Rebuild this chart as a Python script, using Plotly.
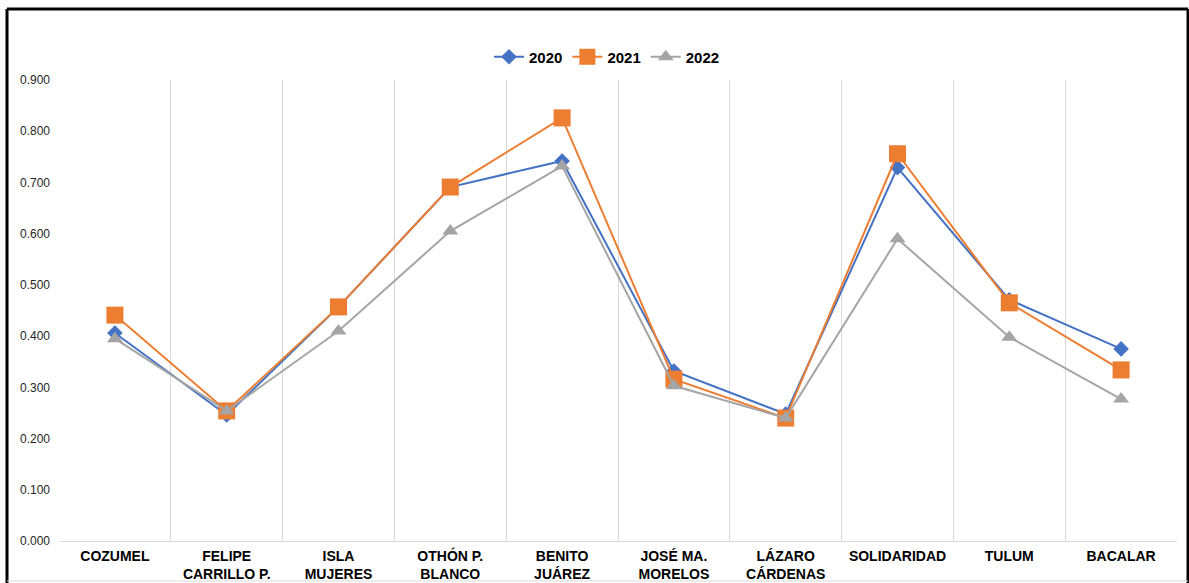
import plotly.graph_objects as go

categories = ["COZUMEL", "FELIPE<br>CARRILLO P.", "ISLA<br>MUJERES", "OTHÓN P.<br>BLANCO",
              "BENITO<br>JUÁREZ", "JOSÉ MA.<br>MORELOS", "LÁZARO<br>CÁRDENAS",
              "SOLIDARIDAD", "TULUM", "BACALAR"]
v2020 = [0.406, 0.246, 0.457, 0.691, 0.742, 0.332, 0.248, 0.729, 0.471, 0.375]
v2021 = [0.441, 0.254, 0.457, 0.691, 0.826, 0.316, 0.240, 0.756, 0.465, 0.334]
v2022 = [0.395, 0.254, 0.410, 0.605, 0.732, 0.303, 0.240, 0.590, 0.398, 0.277]

fig = go.Figure()
fig.add_trace(go.Scatter(x=categories, y=v2020, name="2020", mode="lines+markers",
                         line=dict(color="#4472C4", width=2),
                         marker=dict(symbol="diamond", size=12, color="#4472C4")))
fig.add_trace(go.Scatter(x=categories, y=v2021, name="2021", mode="lines+markers",
                         line=dict(color="#ED7D31", width=2),
                         marker=dict(symbol="square", size=17, color="#ED7D31")))
fig.add_trace(go.Scatter(x=categories, y=v2022, name="2022", mode="lines+markers",
                         line=dict(color="#A5A5A5", width=2),
                         marker=dict(symbol="triangle-up", size=14, color="#A5A5A5")))

L, R, T, B = 59, 12, 80, 42
W, H = 1189, 583
pw, ph = W - L - R, H - T - B

def px(x):
    return (x - L) / pw

def py(y):
    return (H - B - y) / ph

shapes = [
    dict(type="line", xref="paper", yref="paper", x0=px(7), x1=px(7), y0=py(9), y1=py(583),
         line=dict(color="black", width=3)),
    dict(type="line", xref="paper", yref="paper", x0=px(7), x1=px(1188), y0=py(9), y1=py(9),
         line=dict(color="black", width=3)),
    dict(type="line", xref="paper", yref="paper", x0=px(1188), x1=px(1188), y0=py(9), y1=py(583),
         line=dict(color="black", width=3)),
    dict(type="line", xref="paper", yref="paper", x0=px(7), x1=px(1188), y0=py(581), y1=py(581),
         line=dict(color="#d9d9d9", width=1)),
]

fig.update_layout(
    width=W, height=H,
    margin=dict(l=L, r=R, t=T, b=B, autoexpand=False),
    paper_bgcolor="white", plot_bgcolor="white",
    font=dict(family="Liberation Sans, Arial, sans-serif", color="#262626"),
    showlegend=True,
    legend=dict(orientation="h", x=px(607), xanchor="center", y=py(57), yanchor="middle",
                font=dict(size=15, color="black", family="Liberation Sans, Arial, sans-serif",
                          weight="bold"),
                itemwidth=30, tracegroupgap=0),
    shapes=shapes,
    xaxis=dict(type="category", tickson="boundaries", showgrid=True, gridcolor="#d9d9d9",
               gridwidth=1, ticks="", showline=True, linecolor="#d9d9d9", linewidth=1,
               ticklabelstandoff=2, tickangle=0, automargin=False,
               tickfont=dict(size=14, color="black", weight="bold"), range=[-0.5, 9.5]),
    yaxis=dict(range=[0, 0.9], dtick=0.1, tickformat=".3f", showgrid=False, zeroline=False,
               showline=False, ticks="", ticklabelstandoff=8, automargin=False,
               tickfont=dict(size=12, color="#262626")),
)

fig.write_html("out.html", config={"displayModeBar": False},
               post_script="document.body.style.margin='0';document.body.style.padding='0';")
